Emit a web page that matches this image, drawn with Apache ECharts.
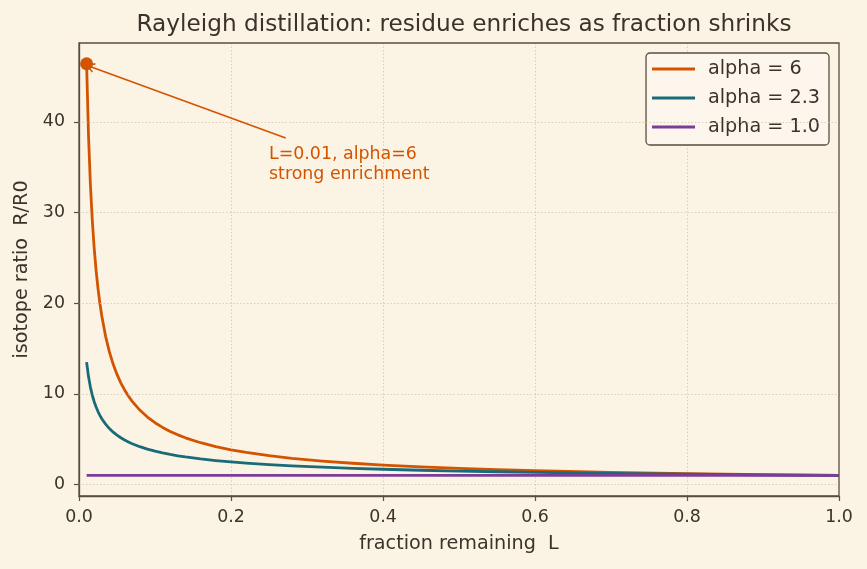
<!DOCTYPE html>
<html>
<head>
<meta charset="utf-8">
<script src="https://cdn.jsdelivr.net/npm/echarts@6/dist/echarts.min.js"></script>
<style>
html,body{margin:0;padding:0;background:#fbf3e4;}
#chart{width:867px;height:569px;}
</style>
</head>
<body>
<div id="chart"></div>
<script>
// Fraction remaining L (x values)
const fractionL = [0.01, 0.0125, 0.015, 0.0175, 0.02, 0.0225, 0.025, 0.0275, 0.03, 0.035, 0.04, 0.045, 0.05, 0.055, 0.06, 0.065, 0.07, 0.08, 0.09, 0.10, 0.11, 0.12, 0.13, 0.14, 0.16, 0.18, 0.20, 0.22, 0.25, 0.28, 0.32, 0.36, 0.40, 0.45, 0.50, 0.55, 0.60, 0.70, 0.80, 0.90, 1.00];
// Isotope ratio R/R0 for each alpha
const ratioAlpha6 = [46.42, 38.55, 33.11, 29.12, 26.05, 23.61, 21.63, 19.98, 18.58, 16.34, 14.62, 13.25, 12.14, 11.21, 10.43, 9.756, 9.171, 8.206, 7.438, 6.813, 6.293, 5.853, 5.475, 5.147, 4.605, 4.175, 3.824, 3.532, 3.175, 2.889, 2.584, 2.343, 2.146, 1.945, 1.782, 1.646, 1.531, 1.346, 1.204, 1.092, 1.000];
const ratioAlpha23 = [13.50, 11.90, 10.74, 9.842, 9.126, 8.538, 8.045, 7.623, 7.257, 6.652, 6.168, 5.771, 5.437, 5.152, 4.905, 4.688, 4.495, 4.169, 3.900, 3.675, 3.482, 3.315, 3.168, 3.038, 2.817, 2.636, 2.483, 2.353, 2.189, 2.053, 1.904, 1.781, 1.678, 1.570, 1.480, 1.402, 1.335, 1.223, 1.134, 1.061, 1.000];
const ratioAlpha1 = [1.0, 1.0, 1.0, 1.0, 1.0, 1.0, 1.0, 1.0, 1.0, 1.0, 1.0, 1.0, 1.0, 1.0, 1.0, 1.0, 1.0, 1.0, 1.0, 1.0, 1.0, 1.0, 1.0, 1.0, 1.0, 1.0, 1.0, 1.0, 1.0, 1.0, 1.0, 1.0, 1.0, 1.0, 1.0, 1.0, 1.0, 1.0, 1.0, 1.0, 1.0];
const seriesNames = ['alpha = 6', 'alpha = 2.3', 'alpha = 1.0'];
const xTicks = [0.0, 0.2, 0.4, 0.6, 0.8, 1.0];
const yTicks = [0, 10, 20, 30, 40];
// Annotation
const annotPoint = [0.01, 46.4];
const annotArrowStart = [0.272, 38.2];
const annotArrowEnd = [0.0145, 46.1];
const annotTextPos = [0.25, 35.3];
const annotText = 'L=0.01, alpha=6\nstrong enrichment';

const colors = ['#d35400', '#1a6b78', '#7d3c98'];
const ink = '#3b332a';
const spine = '#5a4e40';
const gridCol = '#cfc5b3';

function pairs(xs, ys) { return xs.map((x, i) => [x, ys[i]]); }

const chart = echarts.init(document.getElementById('chart'), null, {renderer: 'canvas'});
const option = {
  backgroundColor: '#fbf3e4',
  animation: false,
  textStyle: {fontFamily: 'DejaVu Sans'},
  title: {
    text: 'Rayleigh distillation: residue enriches as fraction shrinks',
    left: 459, top: 8, textAlign: 'center',
    textStyle: {fontFamily: 'DejaVu Sans', fontSize: 23.2, fontWeight: 'normal', color: ink}
  },
  grid: {left: 79, right: 28, top: 43, bottom: 73, show: true, borderColor: spine, borderWidth: 1.3, backgroundColor: 'transparent', z: 10},
  legend: {
    data: seriesNames,
    orient: 'vertical',
    right: 38, top: 53,
    itemWidth: 43, itemHeight: 3, itemGap: 9,
    icon: 'rect',
    padding: [6, 9, 8, 6],
    backgroundColor: '#fcf6ec',
    borderColor: spine, borderWidth: 1.3, borderRadius: 4,
    textStyle: {fontFamily: 'DejaVu Sans', fontSize: 19.2, color: ink, lineHeight: 20, padding: [0, 0, 0, 8]}
  },
  xAxis: {
    type: 'value', min: 0, max: 1, interval: 0.2,
    name: 'fraction remaining  L', nameLocation: 'middle', nameGap: 39,
    nameTextStyle: {fontFamily: 'DejaVu Sans', fontSize: 19.2, color: ink},
    axisLine: {show: true, onZero: false, lineStyle: {color: spine, width: 1.3}},
    axisTick: {show: true, length: 5, lineStyle: {color: spine, width: 1.2}},
    axisLabel: {margin: 13, fontSize: 17.4, color: ink, fontFamily: 'DejaVu Sans', formatter: v => v.toFixed(1)},
    splitLine: {show: true, showMinLine: false, showMaxLine: false, lineStyle: {color: gridCol, type: [1.5, 2], width: 0.8}}
  },
  yAxis: {
    type: 'value', min: -1.27, max: 48.69,
    name: 'isotope ratio  R/R0', nameLocation: 'middle', nameGap: 46,
    nameTextStyle: {fontFamily: 'DejaVu Sans', fontSize: 19.2, color: ink},
    axisLine: {show: true, onZero: false, lineStyle: {color: spine, width: 1.3}},
    axisTick: {show: true, length: 5, customValues: yTicks, lineStyle: {color: spine, width: 1.2}},
    axisLabel: {margin: 14, fontSize: 17.4, color: ink, fontFamily: 'DejaVu Sans', customValues: yTicks},
    splitLine: {show: false}
  },
  series: [
    {
      name: 'gridY', type: 'line', data: [], silent: true, z: 1,
      markLine: {
        silent: true, symbol: ['none', 'none'], label: {show: false},
        lineStyle: {color: gridCol, type: [1.5, 2], width: 0.8},
        data: yTicks.map(v => ({yAxis: v}))
      }
    },
    {
      name: seriesNames[0], type: 'line', data: pairs(fractionL, ratioAlpha6),
      showSymbol: false, smooth: false, z: 3,
      lineStyle: {color: colors[0], width: 2.8, join: 'round'}, itemStyle: {color: colors[0]}
    },
    {
      name: seriesNames[1], type: 'line', data: pairs(fractionL, ratioAlpha23),
      showSymbol: false, smooth: false, z: 4,
      lineStyle: {color: colors[1], width: 2.8, join: 'round'}, itemStyle: {color: colors[1]}
    },
    {
      name: seriesNames[2], type: 'line', data: pairs(fractionL, ratioAlpha1),
      showSymbol: false, z: 5,
      lineStyle: {color: colors[2], width: 2.8}, itemStyle: {color: colors[2]}
    },
    {
      name: 'annotation', type: 'scatter', z: 6,
      data: [annotPoint],
      symbolSize: 13,
      itemStyle: {color: colors[0], opacity: 1},
      markLine: {
        silent: true,
        symbol: ['none', 'path://M0,10 L5,0 L10,10 L8.6,10.8 L5,3 L1.4,10.8 Z'],
        symbolSize: [10, 9],
        label: {show: false},
        lineStyle: {color: colors[0], width: 1.6, type: 'solid'},
        data: [[{coord: annotArrowStart}, {coord: annotArrowEnd}]]
      }
    }
  ]
};
chart.setOption(option);
const tp = chart.convertToPixel({gridIndex: 0}, annotTextPos);
chart.setOption({
  graphic: [{
    type: 'text', x: tp[0], y: tp[1], z: 100, silent: true,
    style: {
      text: annotText, fill: colors[0],
      font: '17.4px "DejaVu Sans"', lineHeight: 19.5,
      align: 'left', verticalAlign: 'middle'
    }
  }]
});
</script>
</body>
</html>
